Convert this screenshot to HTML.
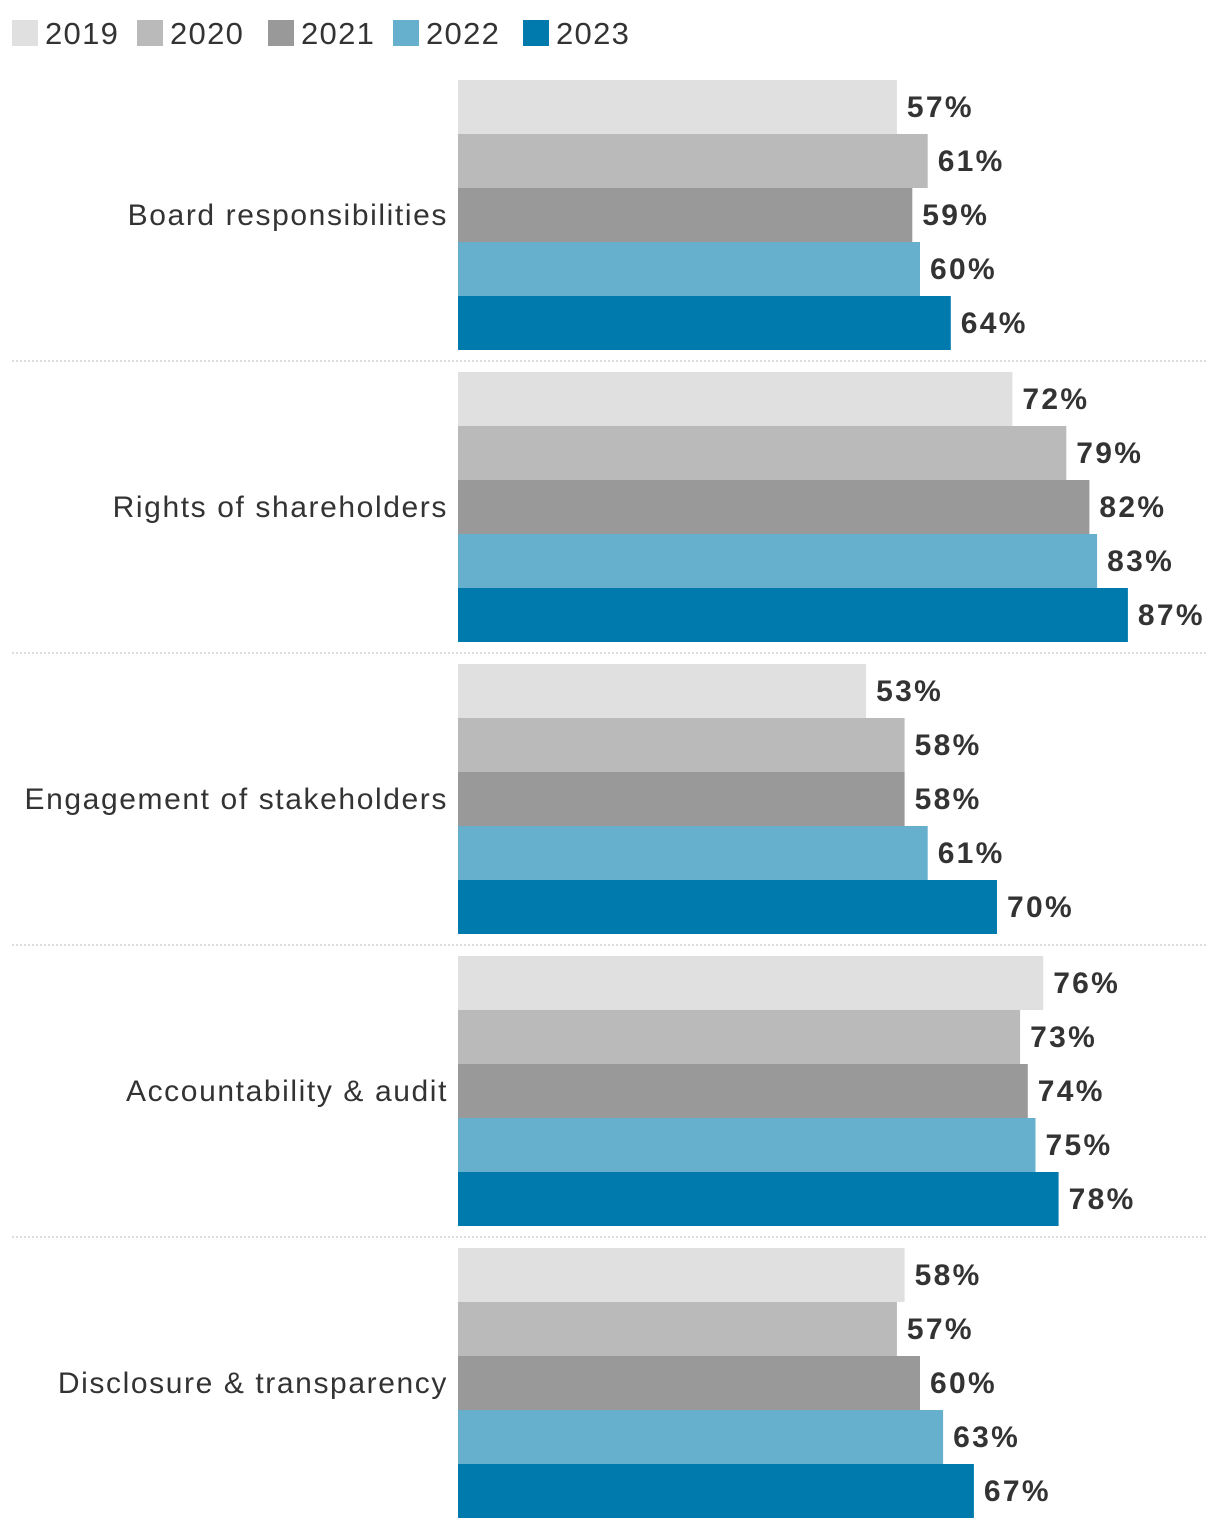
<!DOCTYPE html>
<html><head><meta charset="utf-8"><style>
body{margin:0;background:#fff;width:1220px;height:1530px;overflow:hidden;font-family:"Liberation Sans",sans-serif}
</style></head><body>
<svg id="chart" width="1220" height="1530" xmlns="http://www.w3.org/2000/svg"></svg>
<script>
const categories=["Board responsibilities","Rights of shareholders","Engagement of stakeholders","Accountability & audit","Disclosure & transparency"];
const years=["2019","2020","2021","2022","2023"];
const v2019=[57,72,53,76,58];
const v2020=[61,79,58,73,57];
const v2021=[59,82,58,74,60];
const v2022=[60,83,61,75,63];
const v2023=[64,87,70,78,67];
const series=[v2019,v2020,v2021,v2022,v2023];
const colors=["#e0e0e0","#bababa","#999999","#66afcd","#007aad"];
const NS="http://www.w3.org/2000/svg";
const svg=document.getElementById('chart');
const x0=458,pxPer=7.7;
const xs=v=>x0+v*pxPer;
const groupTop=80,groupStep=292,barH=54;
function mk(tag,attrs){const e=document.createElementNS(NS,tag);for(const k in attrs)e.setAttribute(k,attrs[k]);svg.appendChild(e);return e;}
const legX=[12,137,268,393,523];
years.forEach((y,i)=>{
  const r=mk('rect',{x:legX[i],y:20,width:26,height:26,fill:colors[i]});
  
  
  const t=mk('text',{x:legX[i]+33,y:44,'font-size':31,'letter-spacing':1.3,fill:'#333'});
  t.textContent=y;
  
  
});
categories.forEach((c,ci)=>{
  const top=groupTop+ci*groupStep;
  const lab=mk('text',{x:448,y:top+135+10,'font-size':30,'letter-spacing':1.6,fill:'#333','text-anchor':'end'});
  lab.textContent=c;
  
  
  series.forEach((s,si)=>{
    const y=top+si*barH;
    const r=mk('rect',{x:x0,y:y,width:xs(s[ci])-x0,height:barH,fill:colors[si]});
    
    
    const t=mk('text',{x:xs(s[ci])+10,y:y+37,'font-size':30,'letter-spacing':2.3,'font-weight':'bold',fill:'#333'});
    t.textContent=s[ci]+'%';
    
    
  });
  if(ci<categories.length-1){
    const ly=top+5*barH+11;
    const l=mk('line',{x1:12,x2:1208,y1:ly,y2:ly,stroke:'#bbb','stroke-width':1,'stroke-dasharray':'2,2'});
    
    
  }
});
</script>
</body></html>
